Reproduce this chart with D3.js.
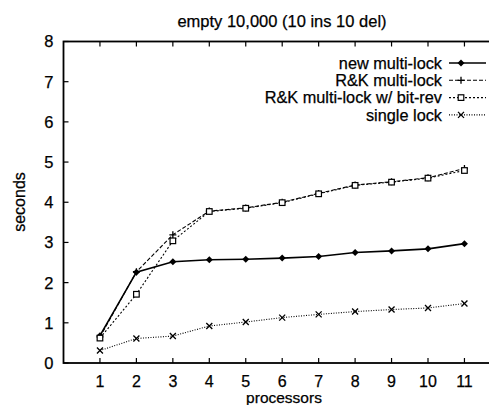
<!DOCTYPE html>
<html><head><meta charset="utf-8">
<script src="https://cdn.jsdelivr.net/npm/d3@7"></script>
<style>body{margin:0;background:#fff}svg{display:block}text{font-family:"Liberation Sans",Arial,sans-serif;fill:#000;stroke:#000;stroke-width:0.25px}</style>
</head><body>
<script>
const processors = [1,2,3,4,5,6,7,8,9,10,11];
const newMultiLock = [0.68,2.26,2.52,2.57,2.58,2.61,2.65,2.75,2.79,2.84,2.97];
const rkMultiLock = [0.65,2.27,3.19,3.78,3.86,4.00,4.22,4.43,4.51,4.61,4.84];
const rkBitRev = [0.62,1.71,3.04,3.77,3.85,3.99,4.21,4.42,4.50,4.60,4.79];
const singleLock = [0.31,0.61,0.67,0.92,1.02,1.13,1.21,1.28,1.33,1.37,1.48];
const yTicks = [0,1,2,3,4,5,6,7,8];
const seriesNames = ["new multi-lock","R&K multi-lock","R&K multi-lock w/ bit-rev","single lock"];

const W=489,H=405;
const svg=d3.select("body").append("svg").attr("width",W).attr("height",H);
const x=d3.scaleLinear().domain([0,12]).range([63.5,63.5+12*36.45]);
const y=d3.scaleLinear().domain([0,8]).range([363,41.5]);
const x0=x(0),x1=x(12),y0=y(0),y1=y(8);

// frame
svg.append("rect").attr("x",x0).attr("y",y1).attr("width",x1-x0).attr("height",y0-y1)
  .attr("fill","none").attr("stroke","#000").attr("stroke-width",1.8);
// y ticks
yTicks.forEach(t=>{
  svg.append("line").attr("x1",x0).attr("x2",x0+5).attr("y1",y(t)).attr("y2",y(t)).attr("stroke","#000").attr("stroke-width",1.2);
  svg.append("text").attr("x",x0-10).attr("y",y(t)).attr("dy","0.36em").attr("text-anchor","end").attr("font-size",16.5).text(t);
});
// x ticks
processors.forEach(t=>{
  svg.append("line").attr("x1",x(t)).attr("x2",x(t)).attr("y1",y0).attr("y2",y0-5).attr("stroke","#000").attr("stroke-width",1.2);
  svg.append("line").attr("x1",x(t)).attr("x2",x(t)).attr("y1",y1).attr("y2",y1+5).attr("stroke","#000").attr("stroke-width",1.2);
  svg.append("text").attr("x",x(t)).attr("y",y0+23.5).attr("text-anchor","middle").attr("font-size",16).text(t);
});
svg.append("text").attr("x",282).attr("y",27).attr("text-anchor","middle").attr("font-size",16.5).text("empty 10,000 (10 ins 10 del)");
svg.append("text").attr("x",284).attr("y",403).attr("text-anchor","middle").attr("font-size",15.5).text("processors");
svg.append("text").attr("transform","translate(25,202) rotate(-90)").attr("text-anchor","middle").attr("font-size",16).text("seconds");

const styles=[
  {data:newMultiLock,dash:null,w:1.6,marker:"diamond"},
  {data:rkMultiLock,dash:"4,2",w:1.1,marker:"plus"},
  {data:rkBitRev,dash:"2,2",w:1.1,marker:"square"},
  {data:singleLock,dash:"1,1.5",w:1.1,marker:"cross"}
];
function drawMarker(g,type,cx,cy){
  if(type==="diamond"){
    g.append("path").attr("d",`M${cx},${cy-3.5}L${cx+3.5},${cy}L${cx},${cy+3.5}L${cx-3.5},${cy}Z`).attr("fill","#000");
  } else if(type==="plus"){
    g.append("path").attr("d",`M${cx-3.5},${cy}H${cx+3.5}M${cx},${cy-3.5}V${cy+3.5}`).attr("stroke","#000").attr("stroke-width",1.3);
  } else if(type==="square"){
    g.append("rect").attr("x",cx-2.8).attr("y",cy-2.8).attr("width",5.6).attr("height",5.6).attr("fill","#fff").attr("stroke","#000").attr("stroke-width",1.2);
  } else {
    g.append("path").attr("d",`M${cx-3},${cy-3}L${cx+3},${cy+3}M${cx-3},${cy+3}L${cx+3},${cy-3}`).attr("stroke","#000").attr("stroke-width",1.3);
  }
}
const line=d3.line().x((d,i)=>x(processors[i])).y(d=>y(d));
styles.forEach((s,k)=>{
  const g=svg.append("g");
  g.append("path").attr("d",line(s.data)).attr("fill","none").attr("stroke","#000")
   .attr("stroke-width",s.w).attr("stroke-dasharray",s.dash);
  s.data.forEach((v,i)=>drawMarker(g,s.marker,x(processors[i]),y(v)));
  // legend
  const ly=63+k*17.3;
  svg.append("text").attr("x",442).attr("y",ly).attr("dy","0.36em").attr("text-anchor","end").attr("font-size",16.3).text(seriesNames[k]);
  const lg=svg.append("g");
  lg.append("line").attr("x1",449).attr("x2",486).attr("y1",ly).attr("y2",ly).attr("stroke","#000").attr("stroke-width",s.w).attr("stroke-dasharray",s.dash);
  drawMarker(lg,s.marker,461,ly);
});
</script>
</body></html>
